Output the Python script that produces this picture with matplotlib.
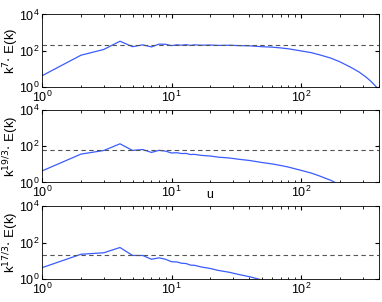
import numpy as np
import matplotlib
matplotlib.use("Agg")
import matplotlib.pyplot as plt

plt.rcParams['font.family'] = ['Liberation Sans', 'DejaVu Sans']

# wavenumbers and compensated spectrum k^7 E(k)
k = [1, 2, 3, 4, 5, 6, 7, 8, 9, 10, 11, 12, 13, 14, 15, 17, 20, 23, 28,
     33, 40, 50, 60, 70, 80, 100, 120, 140, 170, 200, 240, 280, 320, 350, 384]
k7E = [4.3, 58, 120, 340, 170, 215, 165, 235, 230, 195, 215, 205, 220, 200,
       215, 205, 210, 200, 205, 195, 190, 170, 160, 145, 130, 100, 80, 60,
       40, 25, 13, 7, 3.5, 2.0, 1.0]

powers = [7, 19 / 3, 17 / 3]
labels = ['k$^{7}$$\\cdot$ E(k)', 'k$^{19/3}$$\\cdot$ E(k)', 'k$^{17/3}$$\\cdot$ E(k)']
ref_levels = [200, 60, 21]

k = np.array(k, dtype=float)
k7E = np.array(k7E)
E = k7E / k ** 7

fig = plt.figure(figsize=(3.82, 3.02), dpi=100)
rects = [[0.110, 0.711, 0.882, 0.241],
         [0.110, 0.396, 0.882, 0.240],
         [0.110, 0.075, 0.882, 0.244]]

for i in range(3):
    ax = fig.add_axes(rects[i])
    ax.loglog(k, E * k ** powers[i], color='#3a5cff', lw=0.9)
    ax.axhline(ref_levels[i], color='#555555', ls=(0, (4, 3)), lw=0.8)
    ax.set_xlim(1, 400)
    ax.set_ylim(1, 1e4)
    ax.set_yticks([1, 1e2, 1e4])
    ax.yaxis.set_minor_locator(matplotlib.ticker.NullLocator())
    ax.tick_params(which='both', direction='in', top=True, right=True,
                   labelsize=9, pad=2)
    ax.tick_params(which='major', length=3)
    ax.tick_params(which='minor', length=1.8)
    ax.set_ylabel(labels[i], fontsize=9.5)
    ax.yaxis.set_label_coords(-0.062, 0.5)
    for s in ax.spines.values():
        s.set_linewidth(0.6)

fig.text(0.55, 0.355, 'u', fontsize=9, ha='center', va='center')

fig.savefig('out.png', dpi=100)
